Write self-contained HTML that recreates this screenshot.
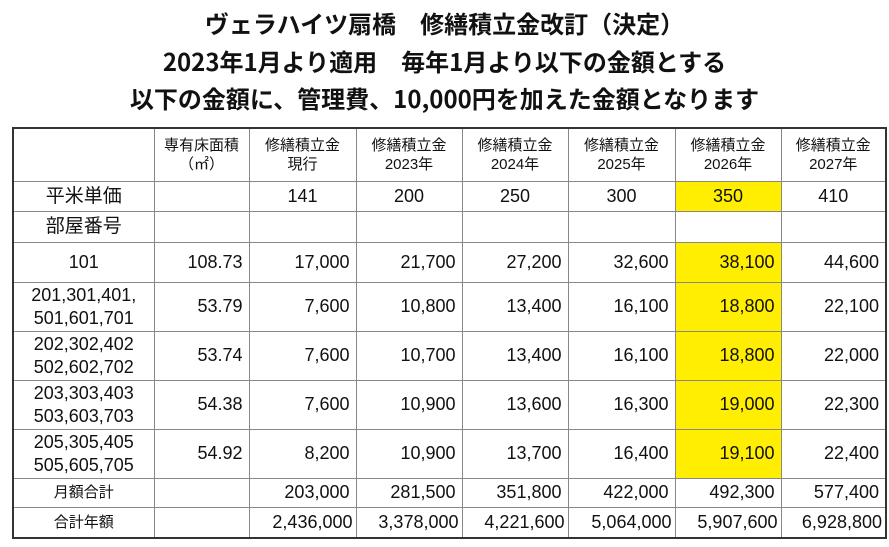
<!DOCTYPE html>
<html><head><meta charset="utf-8"><style>
body{margin:0;width:889px;height:547px;background:#fff;font-family:"Liberation Sans","Noto Sans CJK JP",sans-serif;color:#111;position:relative;overflow:hidden}
.t{position:absolute;left:0;width:889px;text-align:center;font-weight:bold;font-size:24px;line-height:30px;font-family:"Noto Sans CJK JP","Liberation Sans",sans-serif}
table{position:absolute;left:12px;top:127px;border-collapse:collapse;table-layout:fixed;border:2px solid #333}
td{border:1px solid #888;padding:0 6px;font-size:18px;text-align:right;white-space:nowrap;overflow:hidden;line-height:23px}
td.c{text-align:center}
td.h{text-align:center;font-size:15px;line-height:19px}
td.y{background:#ffee00}
</style></head><body>
<div class="t" style="top:8px">ヴェラハイツ扇橋　修繕積立金改訂（決定）</div>
<div class="t" style="top:46px">2023年1月より適用　毎年1月より以下の金額とする</div>
<div class="t" style="top:83px">以下の金額に、管理費、10,000円を加えた金額となります</div>
<table>
<colgroup><col style="width:141px"><col style="width:95px"><col style="width:107px"><col style="width:106px"><col style="width:106px"><col style="width:107px"><col style="width:106px"><col style="width:105px"></colgroup>
<tr style="height:53px"><td></td><td class="h">専有床面積<br>（㎡）</td><td class="h">修繕積立金<br>現行</td><td class="h">修繕積立金<br>2023年</td><td class="h">修繕積立金<br>2024年</td><td class="h">修繕積立金<br>2025年</td><td class="h">修繕積立金<br>2026年</td><td class="h">修繕積立金<br>2027年</td></tr>
<tr style="height:30px"><td class="c" style="font-size:19px">平米単価</td><td></td><td class="c">141</td><td class="c">200</td><td class="c">250</td><td class="c">300</td><td class="c y">350</td><td class="c">410</td></tr>
<tr style="height:31px"><td class="c" style="font-size:19px">部屋番号</td><td></td><td></td><td></td><td></td><td></td><td></td><td></td></tr>
<tr style="height:40px"><td class="c">101</td><td>108.73</td><td>17,000</td><td>21,700</td><td>27,200</td><td>32,600</td><td class="y">38,100</td><td>44,600</td></tr>
<tr style="height:49px"><td class="c" style="padding:0 2px">201,301,401,<br>501,601,701</td><td>53.79</td><td>7,600</td><td>10,800</td><td>13,400</td><td>16,100</td><td class="y">18,800</td><td>22,100</td></tr>
<tr style="height:49px"><td class="c" style="padding:0 2px">202,302,402<br>502,602,702</td><td>53.74</td><td>7,600</td><td>10,700</td><td>13,400</td><td>16,100</td><td class="y">18,800</td><td>22,000</td></tr>
<tr style="height:49px"><td class="c" style="padding:0 2px">203,303,403<br>503,603,703</td><td>54.38</td><td>7,600</td><td>10,900</td><td>13,600</td><td>16,300</td><td class="y">19,000</td><td>22,300</td></tr>
<tr style="height:49px"><td class="c" style="padding:0 2px">205,305,405<br>505,605,705</td><td>54.92</td><td>8,200</td><td>10,900</td><td>13,700</td><td>16,400</td><td class="y">19,100</td><td>22,400</td></tr>
<tr style="height:29px"><td class="c" style="font-size:15px">月額合計</td><td></td><td>203,000</td><td>281,500</td><td>351,800</td><td>422,000</td><td>492,300</td><td>577,400</td></tr>
<tr style="height:31px"><td class="c" style="font-size:15px">合計年額</td><td></td><td style="padding:0 3px">2,436,000</td><td style="padding:0 3px">3,378,000</td><td style="padding:0 3px">4,221,600</td><td style="padding:0 3px">5,064,000</td><td style="padding:0 3px">5,907,600</td><td style="padding:0 3px">6,928,800</td></tr>
</table>
</body></html>
